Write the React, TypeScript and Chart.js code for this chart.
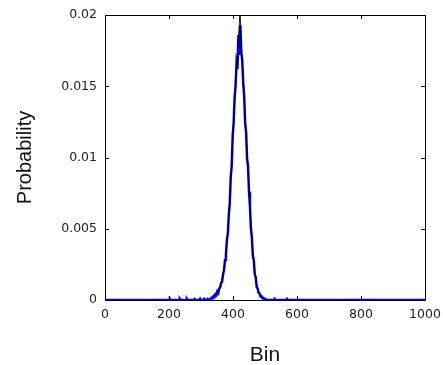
import React, { useEffect, useRef } from "react";
import { Chart, registerables } from "chart.js";

Chart.register(...registerables);

// Histogram (blue) – bin centre and probability
const binX = [
  0, 200, 203, 206, 232, 234, 236, 254, 256, 258, 278, 280, 282, 295, 297, 299,
  308, 310, 312, 318, 320, 322, 326, 328,
  330, 333, 336, 339, 342, 345, 348, 351, 354, 357, 360, 363, 366, 369, 372, 375,
  378, 381, 384, 387, 390, 393, 396, 399, 402, 405, 408, 411, 414, 417, 420, 423,
  426, 429, 432, 435, 438, 441, 444, 447, 450, 453, 456, 459, 462, 465, 468, 471,
  474, 477, 480, 483, 486, 489, 492, 495, 498, 501, 504, 507,
  528, 530, 532, 567, 569, 571, 1000,
];
const binProb = [
  0, 0, 0.00008, 0, 0, 0.00007, 0, 0, 0.00007, 0, 0, 0.00006, 0, 0, 0.00008, 0,
  0, 0.00007, 0, 0, 0.00006, 0, 0.00005, 0.00008,
  0.0001, 0.00016, 0.00012, 0.00026, 0.0002, 0.0004, 0.00034, 0.0006, 0.0005, 0.0008, 0.0009, 0.0012, 0.0013, 0.0018, 0.0021, 0.0028,
  0.0032, 0.0042, 0.0047, 0.006, 0.0068, 0.0087, 0.0094, 0.0115, 0.0124, 0.0142, 0.015, 0.0166, 0.0162, 0.0186, 0.0172, 0.0193,
  0.0174, 0.0168, 0.0152, 0.0143, 0.0124, 0.0118, 0.0099, 0.0094, 0.0076, 0.0066, 0.005, 0.0044, 0.0031, 0.0028, 0.0018, 0.0016,
  0.0009, 0.0008, 0.0005, 0.00045, 0.00025, 0.00026, 0.00012, 0.00014, 0.00006, 0.00008, 0.00002, 0,
  0, 0.00007, 0, 0, 0.00007, 0, 0,
];

// Black outline curve
const lineX = [
  330, 336, 342, 348, 354, 360, 366, 372, 378, 384, 390, 396, 402, 408, 414, 420,
  422, 426, 432, 438, 444, 450, 456, 462, 468, 474, 480, 486, 492, 500,
];
const lineProb = [
  0.0001, 0.0002, 0.00035, 0.0005, 0.0007, 0.001, 0.0015, 0.0022, 0.0033, 0.0049, 0.0072, 0.0098, 0.0126, 0.0152, 0.0172, 0.0195,
  0.0205, 0.0175, 0.0156, 0.0128, 0.0102, 0.0078, 0.0052, 0.0033, 0.002, 0.0011, 0.0006, 0.0003, 0.00015, 0,
];

const xTicks = [0, 200, 400, 600, 800, 1000];
const yTicks = [0, 0.005, 0.01, 0.015, 0.02];

const framePlugin = {
  id: "frame",
  afterDatasetsDraw(chart: any) {
    const { ctx, chartArea: a, scales } = chart;
    const xs = scales.x;
    const ys = scales.y;
    const L = 4;
    ctx.save();
    ctx.strokeStyle = "#000";
    ctx.lineWidth = 1;
    ctx.beginPath();
    ctx.rect(Math.round(a.left) + 0.5, Math.round(a.top) + 0.5, Math.round(a.right - a.left), Math.round(a.bottom - a.top));
    for (const v of xTicks) {
      const px = Math.round(xs.getPixelForValue(v)) + 0.5;
      ctx.moveTo(px, a.bottom);
      ctx.lineTo(px, a.bottom - L);
      ctx.moveTo(px, a.top);
      ctx.lineTo(px, a.top + L);
    }
    for (const v of yTicks) {
      const py = Math.round(ys.getPixelForValue(v)) + 0.5;
      ctx.moveTo(a.left, py);
      ctx.lineTo(a.left + L, py);
      ctx.moveTo(a.right, py);
      ctx.lineTo(a.right - L, py);
    }
    ctx.stroke();
    ctx.restore();
  },
};

export default function App() {
  const ref = useRef<HTMLCanvasElement | null>(null);
  useEffect(() => {
    document.body.style.margin = "0";
    const canvas = ref.current;
    if (!canvas) return;
    const chart = new Chart(canvas, {
      type: "line",
      data: {
        datasets: [
          {
            label: "Outline",
            data: lineX.map((x, i) => ({ x, y: lineProb[i] })),
            borderColor: "#000000",
            borderWidth: 0.9,
            pointRadius: 0,
            tension: 0,
            fill: false,
            order: 0,
          },
          {
            label: "Histogram",
            data: binX.map((x, i) => ({ x, y: binProb[i] })),
            borderColor: "#0000ff",
            borderWidth: 2.5,
            pointRadius: 0,
            tension: 0,
            fill: false,
            order: 1,
          },
        ],
      },
      options: {
        animation: false,
        responsive: false,
        maintainAspectRatio: false,
        layout: { padding: { top: 15, right: 18, left: 0, bottom: 0 } },
        plugins: { legend: { display: false }, tooltip: { enabled: false } },
        scales: {
          x: {
            type: "linear",
            min: 0,
            max: 1000,
            afterBuildTicks: (s: any) => {
              s.ticks = xTicks.map((v) => ({ value: v }));
            },
            afterFit: (s: any) => {
              s.height = 65;
              s.paddingLeft = 0;
              s.paddingRight = 0;
            },
            grid: { display: false, drawTicks: false },
            border: { display: false },
            ticks: {
              padding: 7,
              color: "#222",
              font: { family: "DejaVu Sans", size: 12.5 },
              maxRotation: 0,
              callback: (v: any) => String(v),
            },
            title: {
              display: true,
              text: "Bin",
              color: "#111",
              font: { family: "Liberation Sans", size: 21 },
              padding: { top: 0, bottom: -3 },
            },
          },
          y: {
            type: "linear",
            min: 0,
            max: 0.02,
            afterBuildTicks: (s: any) => {
              s.ticks = yTicks.map((v) => ({ value: v }));
            },
            afterFit: (s: any) => {
              s.width = 105;
              s.paddingTop = 0;
              s.paddingBottom = 0;
            },
            grid: { display: false, drawTicks: false },
            border: { display: false },
            ticks: {
              padding: 8,
              color: "#222",
              font: { family: "DejaVu Sans", size: 12.5 },
              callback: (v: any) => String(Number(Number(v).toFixed(3))),
            },
            title: {
              display: true,
              text: "Probability",
              color: "#111",
              font: { family: "Liberation Sans", size: 20 },
              padding: { top: 13, bottom: 0 },
            },
          },
        },
      },
      plugins: [framePlugin],
    });
    return () => chart.destroy();
  }, []);
  return (
    <div style={{ width: 443, height: 365, background: "#fff" }}>
      <canvas ref={ref} width={443} height={365} style={{ width: 443, height: 365, display: "block" }} />
    </div>
  );
}
